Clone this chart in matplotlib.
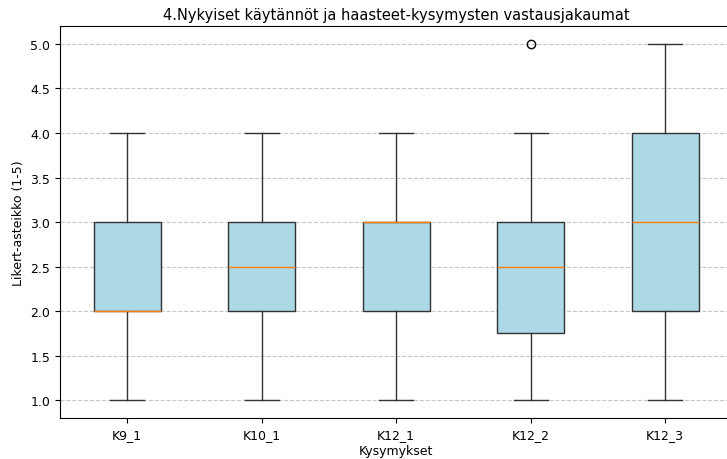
import matplotlib
matplotlib.use('Agg')
import matplotlib.pyplot as plt

# Question labels and five-number summaries (Likert 1-5)
questions = ['K9_1', 'K10_1', 'K12_1', 'K12_2', 'K12_3']
whisker_low = [1, 1, 1, 1, 1]
q1 = [2, 2, 2, 1.75, 2]
median = [2, 2.5, 3, 2.5, 3]
q3 = [3, 3, 3, 3, 4]
whisker_high = [4, 4, 4, 4, 5]
outliers = [[], [], [], [5], []]

stats = []
for i, name in enumerate(questions):
    stats.append({
        'label': name,
        'whislo': whisker_low[i],
        'q1': q1[i],
        'med': median[i],
        'q3': q3[i],
        'whishi': whisker_high[i],
        'fliers': outliers[i],
    })

plt.rcParams['font.size'] = 9

fig = plt.figure(figsize=(7.27, 4.6), dpi=100)
ax = fig.add_axes([0.0825, 0.089, 0.925, 0.852])

bp = ax.bxp(stats, patch_artist=True, showfliers=True)
for box in bp['boxes']:
    box.set_facecolor('lightblue')
for part in ('boxes', 'whiskers', 'caps'):
    for line in bp[part]:
        line.set_color('#333333') if part != 'boxes' else line.set_edgecolor('#333333')

ax.set_title('4.Nykyiset käytännöt ja haasteet-kysymysten vastausjakaumat',
             fontsize=10.5, pad=5)
ax.set_xlabel('Kysymykset', labelpad=2)
ax.set_ylabel('Likert-asteikko (1-5)')
ax.grid(axis='y', linestyle='--', alpha=0.7)

fig.savefig('out.png', dpi=100)
